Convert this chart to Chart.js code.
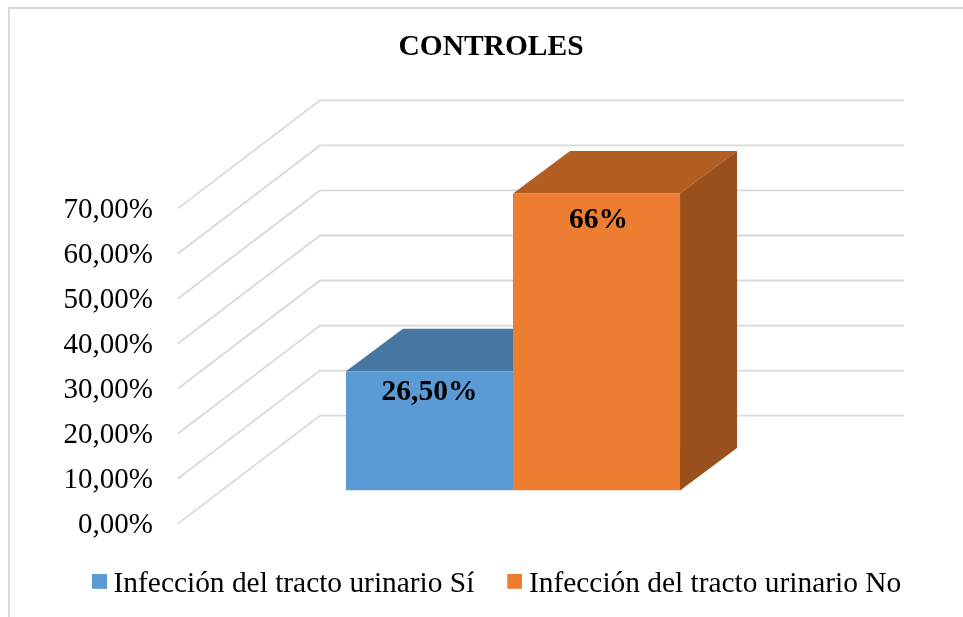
<!DOCTYPE html>
<html>
<head>
<meta charset="utf-8">
<style>html,body{margin:0;padding:0;background:#fff}#w{width:963px;height:617px}canvas{display:block}</style>
<script src="https://cdn.jsdelivr.net/npm/chart.js@4"></script>
</head>
<body>
<div id="w"><canvas id="c" width="963" height="617"></canvas></div>
<script>
const categories = ['Controles'];
const seriesNames = ['Infección del tracto urinario Sí', 'Infección del tracto urinario No'];
const valuesSi = [26.5];
const valuesNo = [66];
const dataLabels = ['26,50%', '66%'];
const frontColors = ['#5B9BD5', '#ED7D31'];
const topColors = ['#4677A3', '#B25D22'];
const sideColors = ['#3E6A93', '#99501C'];
const labelDrop = [21, 27];
const labelNudge = [0, 2];

const FONT = '"Liberation Serif", "Times New Roman", serif';
const WALL = {dx: 142, dy: -108};     // floor depth of the plot box
const BAR_SHIFT = {dx: 43, dy: -33};  // bar front plane relative to box front
const BAR_DEPTH = {dx: 57, dy: -42.5};
const GRID = '#D9D9D9';

// Legend swatch: a 15px square placed in a slightly larger image so it sits
// where the reference has it relative to the legend text.
function swatch(color) {
  const cv = document.createElement('canvas');
  cv.width = 17; cv.height = 21;
  const g = cv.getContext('2d');
  g.fillStyle = color;
  g.fillRect(2, 0, 15, 15);
  return cv;
}

const threeD = {
  id: 'threeD',
  beforeDraw(chart) {
    const c = chart.ctx;
    c.save();
    c.strokeStyle = GRID; c.lineWidth = 2;
    c.beginPath(); c.moveTo(9, 617); c.lineTo(9, 8); c.lineTo(963, 8); c.stroke();
    c.restore();
  },
  beforeDatasetsDraw(chart) {
    const c = chart.ctx, y = chart.scales.y, a = chart.chartArea;
    c.save();
    c.strokeStyle = GRID; c.lineWidth = 1.8;
    y.ticks.forEach(t => {
      const py = y.getPixelForValue(t.value);
      c.beginPath();
      c.moveTo(a.left, py);
      c.lineTo(a.left + WALL.dx, py + WALL.dy);
      c.lineTo(a.right + WALL.dx, py + WALL.dy);
      c.stroke();
    });
    c.restore();
  },
  beforeDatasetDraw(chart, args) {
    const c = chart.ctx, i = args.index, bar = args.meta.data[0];
    const p = bar.getProps(['x', 'y', 'base', 'width'], true);
    const l = p.x - p.width / 2, r = p.x + p.width / 2;
    c.save();
    c.translate(BAR_SHIFT.dx, BAR_SHIFT.dy);
    // The first series is painted last; hide the faces the taller bar covers.
    c.save();
    if (i === 0) { c.beginPath(); c.rect(l, 0, p.width, chart.height); c.clip(); }
    c.fillStyle = topColors[i];
    c.beginPath();
    c.moveTo(l, p.y); c.lineTo(r, p.y);
    c.lineTo(r + BAR_DEPTH.dx, p.y + BAR_DEPTH.dy);
    c.lineTo(l + BAR_DEPTH.dx, p.y + BAR_DEPTH.dy);
    c.closePath(); c.fill();
    c.fillStyle = sideColors[i];
    c.beginPath();
    c.moveTo(r, p.y); c.lineTo(r + BAR_DEPTH.dx, p.y + BAR_DEPTH.dy);
    c.lineTo(r + BAR_DEPTH.dx, p.base + BAR_DEPTH.dy);
    c.lineTo(r, p.base);
    c.closePath(); c.fill();
    c.restore();
  },
  afterDatasetDraw(chart) {
    chart.ctx.restore();
  },
  afterDatasetsDraw(chart) {
    const c = chart.ctx;
    c.save();
    c.fillStyle = '#000';
    c.font = 'bold 29.5px ' + FONT;
    c.textAlign = 'center'; c.textBaseline = 'middle';
    chart.data.datasets.forEach((d, i) => {
      const p = chart.getDatasetMeta(i).data[0].getProps(['x', 'y'], true);
      c.fillText(dataLabels[i], p.x + BAR_SHIFT.dx + labelNudge[i], p.y + BAR_SHIFT.dy + labelDrop[i]);
    });
    c.restore();
  },
  afterLayout(chart) {
    if (chart.titleBlock) { chart.titleBlock.left -= 17; }
    const s = chart.scales.y;
    if (!s._nudged) {
      s._nudged = true;
      const orig = s.drawLabels;
      s.drawLabels = function (area) {
        this.ctx.save();
        this.ctx.translate(0, 1.5);
        orig.call(this, area);
        this.ctx.restore();
      };
    }
  }
};

new Chart(document.getElementById('c'), {
  type: 'bar',
  data: {
    labels: categories,
    datasets: [
      {label: seriesNames[0], data: valuesSi, backgroundColor: frontColors[0], pointStyle: swatch(frontColors[0]),
       categoryPercentage: 0.572, barPercentage: 1},
      {label: seriesNames[1], data: valuesNo, backgroundColor: frontColors[1], pointStyle: swatch(frontColors[1]),
       categoryPercentage: 0.572, barPercentage: 1}
    ]
  },
  options: {
    responsive: false,
    animation: false,
    layout: {padding: {left: 36, right: 0, top: 0, bottom: 8}},
    plugins: {
      tooltip: {enabled: false},
      title: {display: true, text: 'CONTROLES', color: '#000',
        font: {family: FONT, size: 29.5, weight: 'bold'},
        padding: {top: 30, bottom: 143}},
      legend: {position: 'bottom',
        labels: {color: '#000', font: {family: FONT, size: 29.4},
          usePointStyle: true, boxWidth: 1, boxHeight: 15, padding: 39}}
    },
    scales: {
      x: {display: true, ticks: {display: false}, grid: {display: false}, border: {display: false},
          afterFit(s) { s.height = 7; }},
      y: {min: 0, max: 70, position: 'left',
          ticks: {stepSize: 10, color: '#000', padding: 25, font: {family: FONT, size: 29},
                  callback: v => v.toFixed(2).replace('.', ',') + '%'},
          grid: {display: false, drawTicks: false}, border: {display: false},
          afterFit(s) { s.width = 142; }},
      y2: {display: true, position: 'right', min: 0, max: 1,
          ticks: {display: false}, grid: {display: false}, border: {display: false},
          afterFit(s) { s.width = 201; }}
    }
  },
  plugins: [threeD]
});
</script>
</body>
</html>
